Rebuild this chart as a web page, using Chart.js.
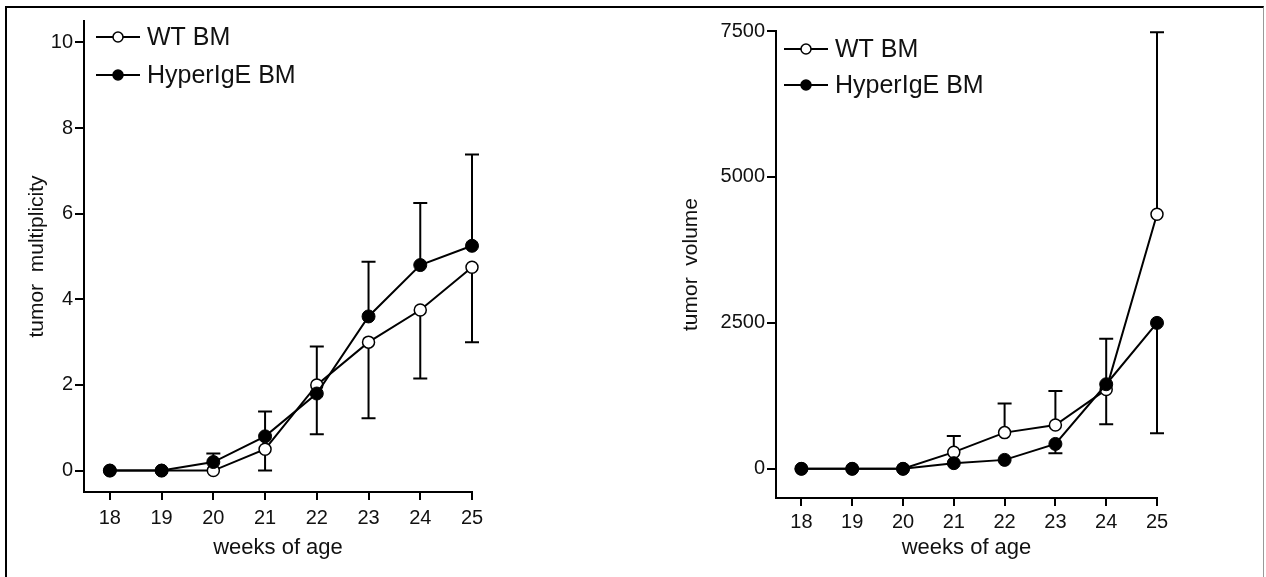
<!DOCTYPE html>
<html>
<head>
<meta charset="utf-8">
<script src="https://cdn.jsdelivr.net/npm/chart.js@4.4.1/dist/chart.umd.min.js"></script>
<style>
  html, body { margin: 0; padding: 0; background: #fff; }
  body { width: 1266px; height: 577px; position: relative; overflow: hidden; }
  #frame { position: absolute; left: 5px; top: 6px; width: 1256px; height: 600px;
           border-top: 2px solid #000; border-left: 2px solid #000; border-right: 1px solid #999; }
  canvas { position: absolute; top: 0; }
  #left { left: 0; }
  #right { left: 640px; }
</style>
</head>
<body>
<div id="frame"></div>
<canvas id="left" width="640" height="577"></canvas>
<canvas id="right" width="626" height="577"></canvas>
<script>
// weeks of age (x categories)
const weeks = [18, 19, 20, 21, 22, 23, 24, 25];
const seriesNames = ['WT BM', 'HyperIgE BM'];

// tumor multiplicity
const multWT = [0, 0, 0, 0.5, 2.0, 3.0, 3.75, 4.75];
const multWTErr = [0, 0, 0, 0.5, 1.15, 1.78, 1.6, 1.75];      // drawn downwards
const multHyper = [0, 0, 0.2, 0.8, 1.8, 3.6, 4.8, 5.25];
const multHyperErr = [0, 0, 0.2, 0.58, 1.1, 1.28, 1.45, 2.13]; // drawn upwards
const multTicks = [0, 2, 4, 6, 8, 10];

// tumor volume
const volWT = [0, 0, 0, 285, 620, 750, 1358, 4360];
const volWTErr = [0, 0, 0, 277, 500, 585, 870, 3120];         // drawn upwards
const volHyper = [0, 0, 0, 97, 153, 426, 1449, 2500];
const volHyperErr = [0, 0, 0, 0, 0, 159, 687, 1892];           // drawn downwards
const volTicks = [0, 2500, 5000, 7500];

const FONT = '"Liberation Sans", Arial, sans-serif';
const INK = '#111';

function pts(vals) {
  return vals.map((v, i) => ({ x: weeks[i], y: v }));
}

// vertical error whiskers with caps, drawn under the markers
const errorBars = {
  id: 'errorBars',
  beforeDatasetsDraw(chart) {
    const ctx = chart.ctx;
    const ys = chart.scales.y;
    chart.data.datasets.forEach((ds, i) => {
      const meta = chart.getDatasetMeta(i);
      ctx.save();
      ctx.strokeStyle = '#000';
      ctx.lineWidth = 2;
      meta.data.forEach((pt, j) => {
        const e = ds.errors[j];
        if (!e) return;
        const yEnd = ys.getPixelForValue(ds.data[j].y + ds.errDir * e);
        ctx.beginPath();
        ctx.moveTo(pt.x, pt.y);
        ctx.lineTo(pt.x, yEnd);
        ctx.moveTo(pt.x - 7, yEnd);
        ctx.lineTo(pt.x + 7, yEnd);
        ctx.stroke();
      });
      ctx.restore();
    });
  }
};

// legend: short line with marker, then label
const lineLegend = {
  id: 'lineLegend',
  afterDraw(chart, args, opts) {
    const ctx = chart.ctx;
    ctx.save();
    chart.data.datasets.forEach((ds, i) => {
      const x = opts.x, y = opts.y + i * opts.gap;
      ctx.strokeStyle = '#000';
      ctx.lineWidth = 2;
      ctx.beginPath();
      ctx.moveTo(x, y);
      ctx.lineTo(x + 44, y);
      ctx.stroke();
      ctx.beginPath();
      ctx.arc(x + 22, y, 5, 0, Math.PI * 2);
      ctx.fillStyle = ds.pointBackgroundColor;
      ctx.fill();
      ctx.lineWidth = 1.5;
      ctx.stroke();
      ctx.fillStyle = INK;
      ctx.font = '25px ' + FONT;
      ctx.textBaseline = 'middle';
      ctx.fillText(ds.label, x + 51, y + 1);
    });
    ctx.restore();
  }
};

function makeChart(id, cfg) {
  const wtSet = {
    label: seriesNames[0],
    data: pts(cfg.wt),
    errors: cfg.wtErr,
    errDir: cfg.wtDir,
    borderColor: '#000',
    borderWidth: 2,
    pointBackgroundColor: '#fff',
    pointBorderColor: '#000',
    pointBorderWidth: 1.5,
    pointRadius: 6,
    clip: false,
    order: 1
  };
  const hyperSet = {
    label: seriesNames[1],
    data: pts(cfg.hyper),
    errors: cfg.hyperErr,
    errDir: cfg.hyperDir,
    borderColor: '#000',
    borderWidth: 2,
    pointBackgroundColor: '#000',
    pointBorderColor: '#000',
    pointBorderWidth: 1,
    pointRadius: 6.5,
    clip: false,
    order: 0
  };
  return new Chart(document.getElementById(id), {
    type: 'line',
    data: { datasets: [wtSet, hyperSet] },
    plugins: [errorBars, lineLegend],
    options: {
      responsive: false,
      animation: false,
      events: [],
      layout: { padding: cfg.padding },
      plugins: {
        legend: { display: false },
        tooltip: { enabled: false },
        lineLegend: cfg.legend
      },
      scales: {
        x: {
          type: 'linear',
          min: 17.5,
          max: 25,
          afterBuildTicks: s => { s.ticks = weeks.map(v => ({ value: v })); },
          afterFit: s => { s.height = cfg.xHeight; },
          grid: { drawOnChartArea: false, drawTicks: true, tickLength: 8, color: '#000', lineWidth: 2 },
          border: { display: true, color: '#000', width: 2 },
          ticks: { color: INK, font: { family: FONT, size: 20 }, padding: cfg.xTickPad, maxRotation: 0,
                   callback: v => String(v) },
          title: { display: true, text: 'weeks of age', color: INK,
                   font: { family: FONT, size: 22 }, padding: { top: 0, bottom: 16 } }
        },
        y: {
          min: cfg.yMin,
          max: cfg.yMax,
          afterBuildTicks: s => { s.ticks = cfg.yTicks.map(v => ({ value: v })); },
          afterFit: s => { s.width = cfg.yWidth; },
          grid: { drawOnChartArea: false, drawTicks: true, tickLength: 9, color: '#000', lineWidth: 2 },
          border: { display: true, color: '#000', width: 2 },
          ticks: { color: INK, font: { family: FONT, size: 20 }, padding: 2, callback: v => String(v) },
          title: { display: true, text: cfg.yTitle, color: INK,
                   font: { family: FONT, size: 21 }, padding: { top: cfg.yTitlePad, bottom: 0 } }
        }
      }
    }
  });
}

makeChart('left', {
  wt: multWT, wtErr: multWTErr, wtDir: -1,
  hyper: multHyper, hyperErr: multHyperErr, hyperDir: 1,
  yMin: -0.5, yMax: 10.5, yTicks: multTicks,
  yTitle: 'tumor  multiplicity', yTitlePad: 25,
  yWidth: 84, xHeight: 85, xTickPad: 6,
  padding: { left: 0, top: 21, right: 168, bottom: 0 },
  legend: { x: 96, y: 37, gap: 38 }
});

makeChart('right', {
  wt: volWT, wtErr: volWTErr, wtDir: 1,
  hyper: volHyper, hyperErr: volHyperErr, hyperDir: -1,
  yMin: -500, yMax: 7500, yTicks: volTicks,
  yTitle: 'tumor  volume', yTitlePad: 39,
  yWidth: 136, xHeight: 79, xTickPad: 4,
  padding: { left: 0, top: 31, right: 109, bottom: 0 },
  legend: { x: 144, y: 49, gap: 36 }
});
</script>
</body>
</html>
